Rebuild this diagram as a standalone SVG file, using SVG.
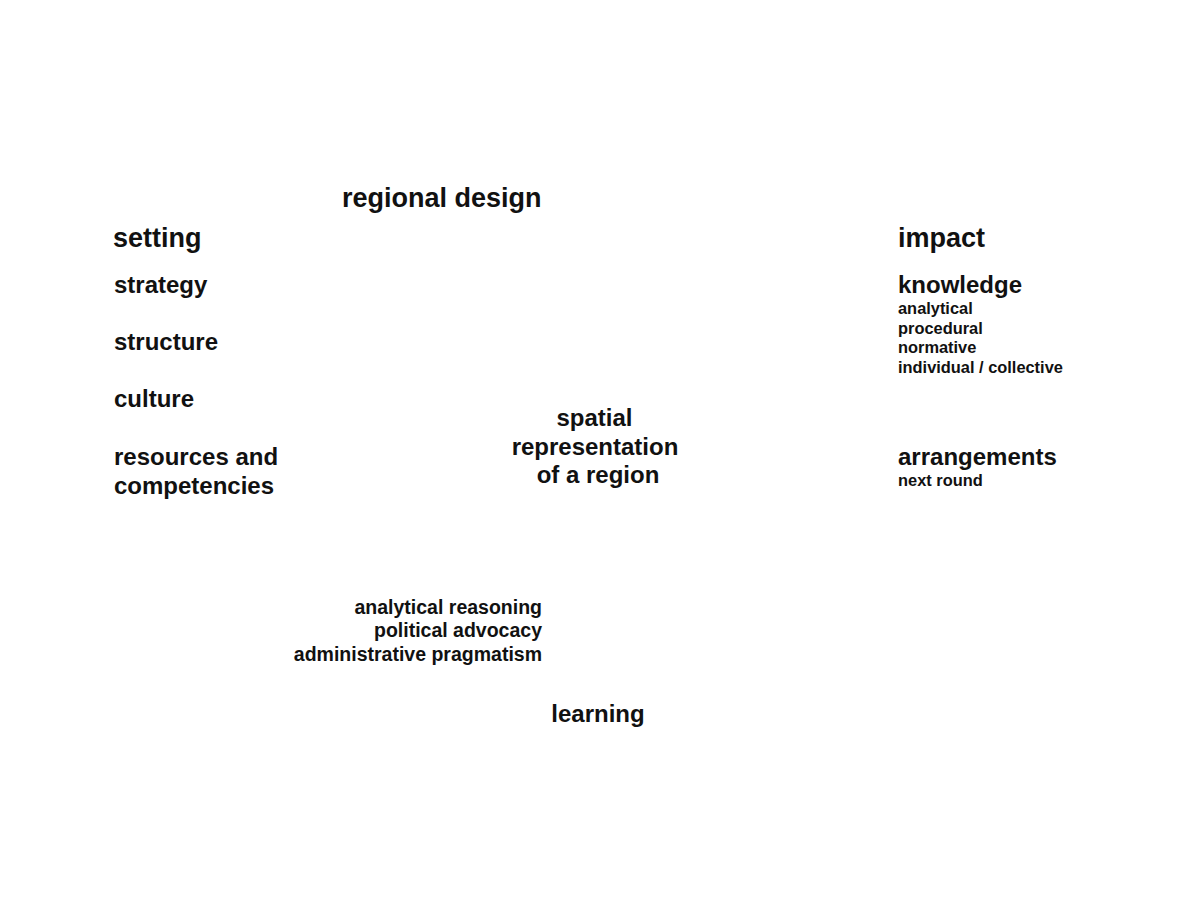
<svg xmlns="http://www.w3.org/2000/svg" width="1200" height="899" viewBox="0 0 1200 899">
<style>
text{font-family:"Liberation Sans",Arial,sans-serif;font-weight:bold;fill:#111}
.h{font-size:27px}
.m{font-size:24px}
.s{font-size:16.4px}
.r{font-size:19.5px}
.c{text-anchor:middle}
.e{text-anchor:end}
</style>
<rect width="1200" height="899" fill="#fff"/>
<g id="title"><text class="h" x="342" y="207">regional design</text></g>
<g id="setting">
<text class="h" x="113" y="247">setting</text>
<text class="m" x="114" y="293">strategy</text>
<text class="m" x="114" y="350">structure</text>
<text class="m" x="114" y="407">culture</text>
<text class="m" x="114" y="465">resources and</text>
<text class="m" x="114" y="494">competencies</text>
</g>
<g id="spatial">
<text class="m c" x="594.5" y="426">spatial</text>
<text class="m c" x="595" y="455">representation</text>
<text class="m c" x="598" y="483">of a region</text>
</g>
<g id="impact">
<text class="h" x="898" y="247">impact</text>
<text class="m" x="898" y="293">knowledge</text>
<text class="s" x="898" y="314">analytical</text>
<text class="s" x="898" y="334">procedural</text>
<text class="s" x="898" y="353">normative</text>
<text class="s" x="898" y="373">individual / collective</text>
<text class="m" x="898" y="465">arrangements</text>
<text class="s" x="898" y="486">next round</text>
</g>
<g id="modes">
<text class="r e" x="542" y="614">analytical reasoning</text>
<text class="r e" x="542" y="637">political advocacy</text>
<text class="r e" x="542" y="661">administrative pragmatism</text>
</g>
<g id="learning"><text class="m c" x="598" y="722">learning</text></g>
<g id="connectors"></g>
</svg>
